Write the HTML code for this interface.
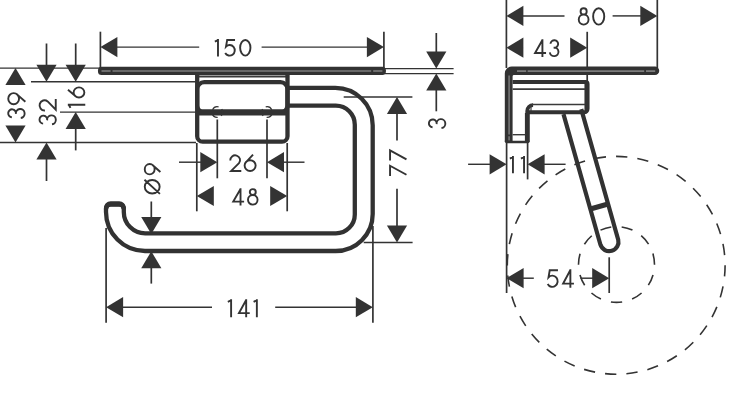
<!DOCTYPE html>
<html><head><meta charset="utf-8"><title>Dimension drawing</title>
<style>
html,body{margin:0;padding:0;background:#fff;font-family:"Liberation Sans",sans-serif;}
svg{display:block}
</style></head>
<body>
<svg width="750" height="412" viewBox="0 0 750 412">
<rect x="0" y="0" width="750" height="412" fill="#ffffff"/>
<line x1="0.00" y1="68.10" x2="100.00" y2="68.10" stroke="#333333" stroke-width="1.45" />
<line x1="31.00" y1="81.80" x2="196.00" y2="81.80" stroke="#333333" stroke-width="1.45" />
<line x1="60.00" y1="112.10" x2="196.00" y2="112.10" stroke="#333333" stroke-width="1.45" />
<line x1="0.00" y1="142.40" x2="196.00" y2="142.40" stroke="#333333" stroke-width="1.45" />
<polygon points="15.50,68.10 5.40,85.10 25.60,85.10" fill="#333333"/>
<polygon points="15.50,142.40 5.40,125.40 25.60,125.40" fill="#333333"/>
<g transform="translate(16.40,105.55) rotate(-90) scale(1.0508,1.0188)" fill="none" stroke="#333333" stroke-width="1.90" stroke-linejoin="miter" stroke-linecap="butt"><path vector-effect="non-scaling-stroke" transform="translate(-11.80,-8.00)" d="M0.61,3.53 A3.8,3.8 0 1 1 3.8,7.5 A4.3,4.3 0 1 1 -0.06,12.30"/><path vector-effect="non-scaling-stroke" transform="translate(1.20,-8.00)" d="M10.6,5.3 A5.3,5.3 0 1 1 0,5.3 A5.3,5.3 0 1 1 10.6,5.3 Z M9.7,8.3 L2.4,16.8"/></g>
<line x1="46.50" y1="43.50" x2="46.50" y2="66.00" stroke="#333333" stroke-width="1.70" />
<polygon points="46.50,81.80 36.40,64.80 56.60,64.80" fill="#333333"/>
<polygon points="46.50,142.40 36.40,159.40 56.60,159.40" fill="#333333"/>
<line x1="46.50" y1="158.00" x2="46.50" y2="181.00" stroke="#333333" stroke-width="1.70" />
<g transform="translate(47.65,112.10) rotate(-90) scale(1.0474,1.0125)" fill="none" stroke="#333333" stroke-width="1.90" stroke-linejoin="miter" stroke-linecap="butt"><path vector-effect="non-scaling-stroke" transform="translate(-11.60,-8.00)" d="M0.61,3.53 A3.8,3.8 0 1 1 3.8,7.5 A4.3,4.3 0 1 1 -0.06,12.30"/><path vector-effect="non-scaling-stroke" transform="translate(1.40,-8.00)" d="M0.12,5.3 A4.9,4.9 0 1 1 8.8,8.0 L1.0,16 L11.1,16"/></g>
<line x1="75.70" y1="43.50" x2="75.70" y2="66.00" stroke="#333333" stroke-width="1.70" />
<polygon points="75.70,81.80 65.60,64.80 85.80,64.80" fill="#333333"/>
<polygon points="75.70,112.10 65.60,129.10 85.80,129.10" fill="#333333"/>
<line x1="75.70" y1="128.00" x2="75.70" y2="150.40" stroke="#333333" stroke-width="1.70" />
<g transform="translate(76.55,97.45) rotate(-90) scale(0.9182,0.9750)" fill="none" stroke="#333333" stroke-width="1.90" stroke-linejoin="miter" stroke-linecap="butt"><path vector-effect="non-scaling-stroke" transform="translate(-11.00,-8.00)" d="M3,-0.95 L3,16.95 M-0.3,1.75 L3,0.1"/><path vector-effect="non-scaling-stroke" transform="translate(0.00,-8.00)" d="M8.4,-0.8 L1.0,7.4 M11,10.5 A5.5,5.5 0 1 1 0,10.5 A5.5,5.5 0 1 1 11,10.5 Z"/></g>
<line x1="100.40" y1="31.70" x2="100.40" y2="68.00" stroke="#333333" stroke-width="1.70" />
<line x1="383.90" y1="31.70" x2="383.90" y2="68.00" stroke="#333333" stroke-width="1.70" />
<polygon points="100.40,47.10 117.40,37.00 117.40,57.20" fill="#333333"/>
<polygon points="383.90,47.10 366.90,37.00 366.90,57.20" fill="#333333"/>
<line x1="116.00" y1="47.10" x2="199.20" y2="47.10" stroke="#333333" stroke-width="1.45" />
<line x1="261.60" y1="47.10" x2="368.00" y2="47.10" stroke="#333333" stroke-width="1.45" />
<g transform="translate(232.80,47.80) rotate(0) scale(0.9464,0.9813)" fill="none" stroke="#333333" stroke-width="1.90" stroke-linejoin="miter" stroke-linecap="butt"><path vector-effect="non-scaling-stroke" transform="translate(-18.65,-8.00)" d="M3,-0.95 L3,16.95 M-0.3,1.75 L3,0.1"/><path vector-effect="non-scaling-stroke" transform="translate(-8.25,-8.00)" d="M10.6,0 L2.3,0 L1.08,6.78 A5.4,5.4 0 1 1 0.22,13.3"/><path vector-effect="non-scaling-stroke" transform="translate(7.75,-8.00)" d="M5.45,0 A5.45,8 0 1 1 5.45,16 A5.45,8 0 1 1 5.45,0 Z"/></g>
<line x1="385.00" y1="68.60" x2="453.60" y2="68.60" stroke="#333333" stroke-width="1.45" />
<line x1="385.00" y1="73.60" x2="453.60" y2="73.60" stroke="#333333" stroke-width="1.45" />
<line x1="436.30" y1="33.00" x2="436.30" y2="53.00" stroke="#333333" stroke-width="1.70" />
<polygon points="436.30,68.60 426.20,51.60 446.40,51.60" fill="#333333"/>
<polygon points="436.30,73.40 426.20,90.40 446.40,90.40" fill="#333333"/>
<line x1="436.30" y1="89.00" x2="436.30" y2="111.30" stroke="#333333" stroke-width="1.70" />
<g transform="translate(437.10,123.55) rotate(-90) scale(1.0353,1.0187)" fill="none" stroke="#333333" stroke-width="1.90" stroke-linejoin="miter" stroke-linecap="butt"><path vector-effect="non-scaling-stroke" transform="translate(-4.25,-8.00)" d="M0.61,3.53 A3.8,3.8 0 1 1 3.8,7.5 A4.3,4.3 0 1 1 -0.06,12.30"/></g>
<line x1="343.70" y1="96.90" x2="412.40" y2="96.90" stroke="#333333" stroke-width="1.45" />
<line x1="363.70" y1="242.40" x2="412.60" y2="242.40" stroke="#333333" stroke-width="1.45" />
<polygon points="397.00,96.90 386.90,113.90 407.10,113.90" fill="#333333"/>
<line x1="397.00" y1="112.00" x2="397.00" y2="140.50" stroke="#333333" stroke-width="1.70" />
<line x1="397.00" y1="188.70" x2="397.00" y2="227.00" stroke="#333333" stroke-width="1.70" />
<polygon points="397.00,242.40 386.90,225.40 407.10,225.40" fill="#333333"/>
<g transform="translate(397.80,162.30) rotate(-90) scale(1.0000,0.9687)" fill="none" stroke="#333333" stroke-width="1.90" stroke-linejoin="miter" stroke-linecap="butt"><path vector-effect="non-scaling-stroke" transform="translate(-12.65,-8.00)" d="M-0.95,0 L9.2,0 L0.2,16.95"/><path vector-effect="non-scaling-stroke" transform="translate(2.65,-8.00)" d="M-0.95,0 L9.2,0 L0.2,16.95"/></g>
<line x1="217.30" y1="119.50" x2="217.30" y2="178.30" stroke="#333333" stroke-width="1.70" />
<line x1="267.00" y1="119.50" x2="267.00" y2="178.30" stroke="#333333" stroke-width="1.70" />
<line x1="179.00" y1="162.20" x2="201.50" y2="162.20" stroke="#333333" stroke-width="1.45" />
<polygon points="217.30,162.20 200.30,152.10 200.30,172.30" fill="#333333"/>
<polygon points="267.00,162.20 284.00,152.10 284.00,172.30" fill="#333333"/>
<line x1="283.00" y1="162.20" x2="304.50" y2="162.20" stroke="#333333" stroke-width="1.45" />
<g transform="translate(242.90,163.15) rotate(0) scale(1.0039,0.9750)" fill="none" stroke="#333333" stroke-width="1.90" stroke-linejoin="miter" stroke-linecap="butt"><path vector-effect="non-scaling-stroke" transform="translate(-12.70,-8.00)" d="M0.12,5.3 A4.9,4.9 0 1 1 8.8,8.0 L1.0,16 L11.1,16"/><path vector-effect="non-scaling-stroke" transform="translate(1.70,-8.00)" d="M8.4,-0.8 L1.0,7.4 M11,10.5 A5.5,5.5 0 1 1 0,10.5 A5.5,5.5 0 1 1 11,10.5 Z"/></g>
<line x1="196.80" y1="143.00" x2="196.80" y2="211.30" stroke="#333333" stroke-width="1.70" />
<line x1="287.20" y1="143.00" x2="287.20" y2="211.30" stroke="#333333" stroke-width="1.70" />
<polygon points="196.80,196.00 213.80,185.90 213.80,206.10" fill="#333333"/>
<polygon points="287.20,196.00 270.20,185.90 270.20,206.10" fill="#333333"/>
<g transform="translate(244.90,196.90) rotate(0) scale(0.9961,0.9688)" fill="none" stroke="#333333" stroke-width="1.90" stroke-linejoin="miter" stroke-linecap="butt"><path vector-effect="non-scaling-stroke" transform="translate(-12.70,-8.00)" d="M8.3,-0.95 L8.3,16.95 M8.3,-0.2 L1.0,12.9 L11.9,12.9"/><path vector-effect="non-scaling-stroke" transform="translate(3.10,-8.00)" d="M4.8,0 A3,3.05 0 1 1 4.8,6.1 A3,3.05 0 1 1 4.8,0 Z M4.8,6.1 A4.8,4.95 0 1 1 4.8,16 A4.8,4.95 0 1 1 4.8,6.1 Z"/></g>
<line x1="151.30" y1="201.50" x2="151.30" y2="218.00" stroke="#333333" stroke-width="1.70" />
<polygon points="151.30,233.90 141.20,216.90 161.40,216.90" fill="#333333"/>
<polygon points="151.30,251.30 141.20,268.30 161.40,268.30" fill="#333333"/>
<line x1="151.30" y1="267.00" x2="151.30" y2="283.60" stroke="#333333" stroke-width="1.70" />
<g transform="translate(152.20,178.80) rotate(-90) scale(0.9736,0.9312)" fill="none" stroke="#333333" stroke-width="1.90" stroke-linejoin="miter" stroke-linecap="butt"><path vector-effect="non-scaling-stroke" transform="translate(-15.15,-8.00)" d="M6.95,0 A6.95,8 0 1 1 6.95,16 A6.95,8 0 1 1 6.95,0 Z M14.2,-0.3 L-0.3,16.3"/><path vector-effect="non-scaling-stroke" transform="translate(4.55,-8.00)" d="M10.6,5.3 A5.3,5.3 0 1 1 0,5.3 A5.3,5.3 0 1 1 10.6,5.3 Z M9.7,8.3 L2.4,16.8"/></g>
<line x1="106.10" y1="228.00" x2="106.10" y2="322.80" stroke="#333333" stroke-width="1.70" />
<line x1="372.90" y1="226.00" x2="372.90" y2="322.80" stroke="#333333" stroke-width="1.70" />
<polygon points="106.10,307.20 123.10,297.10 123.10,317.30" fill="#333333"/>
<polygon points="372.80,307.20 355.80,297.10 355.80,317.30" fill="#333333"/>
<line x1="122.00" y1="307.20" x2="212.00" y2="307.20" stroke="#333333" stroke-width="1.45" />
<line x1="275.20" y1="307.20" x2="357.00" y2="307.20" stroke="#333333" stroke-width="1.45" />
<g transform="translate(242.50,308.20) rotate(0) scale(0.9880,1.0063)" fill="none" stroke="#333333" stroke-width="1.90" stroke-linejoin="miter" stroke-linecap="butt"><path vector-effect="non-scaling-stroke" transform="translate(-14.53,-8.00)" d="M3,-0.95 L3,16.95 M-0.3,1.75 L3,0.1"/><path vector-effect="non-scaling-stroke" transform="translate(-4.58,-8.00)" d="M8.3,-0.95 L8.3,16.95 M8.3,-0.2 L1.0,12.9 L11.9,12.9"/><path vector-effect="non-scaling-stroke" transform="translate(11.53,-8.00)" d="M3,-0.95 L3,16.95 M-0.3,1.75 L3,0.1"/></g>
<rect x="98.0" y="66.7" width="287.9" height="8.4" rx="3.5" ry="3.5" fill="#323232"/>
<line x1="101.50" y1="71.00" x2="110.60" y2="71.00" stroke="#7c7c7c" stroke-width="1.60" />
<line x1="112.50" y1="71.00" x2="371.20" y2="71.00" stroke="#7c7c7c" stroke-width="1.60" />
<line x1="373.20" y1="71.00" x2="382.40" y2="71.00" stroke="#7c7c7c" stroke-width="1.60" />
<line x1="197.00" y1="76.50" x2="288.00" y2="76.50" stroke="#3a3a3a" stroke-width="1.80" />
<path d="M197.2,74 V136.2 A5.5,5.5 0 0 0 202.7,141.7 H282 A5.5,5.5 0 0 0 287.5,136.2 V74" fill="none" stroke="#323232" stroke-width="4.30" />
<path d="M204.2,82.1 H280.5 A7,7 0 0 1 287.5,89.1 V105.6 A7,7 0 0 1 280.5,112.6 H204.2 A7,7 0 0 1 197.2,105.6 V89.1 A7,7 0 0 1 204.2,82.1 Z" fill="none" stroke="#323232" stroke-width="4.30" />
<line x1="199.00" y1="112.30" x2="286.00" y2="112.30" stroke="#323232" stroke-width="6.30" />
<path d="M221.69,109.04 A5.30,5.30 0 0 1 221.11,115.68 M217.67,117.29 A5.30,5.30 0 0 1 212.21,113.46 M212.54,109.68 A5.30,5.30 0 0 1 218.58,106.86" fill="none" stroke="#333333" stroke-width="1.30" />
<path d="M263.19,115.68 A5.30,5.30 0 0 1 262.61,109.04 M265.72,106.86 A5.30,5.30 0 0 1 271.76,109.68 M272.09,113.46 A5.30,5.30 0 0 1 266.63,117.29" fill="none" stroke="#333333" stroke-width="1.30" />
<path d="M289,87.9 H335.3 A37.4,37.4 0 0 1 372.7,125.3 V214.0 A37,37 0 0 1 335.7,251.0 H145 A39,39 0 0 1 106,212.0 V208.7 A4.6,4.6 0 0 1 110.6,204.1 H119.2 A4.6,4.6 0 0 1 123.8,208.7 V211.9 A21.4,21.4 0 0 0 145.2,233.3 H335.9 A18.9,18.9 0 0 0 354.8,214.4 V124.7 A19,19 0 0 0 335.8,105.7 H289" fill="none" stroke="#323232" stroke-width="4.30" />
<path d="M106,208.10 A4.6,4.6 0 0 1 110.6,203.50 H119.2 A4.6,4.6 0 0 1 123.8,208.10" fill="none" stroke="#323232" stroke-width="4.30" />
<path d="M106,209.20 A4.6,4.6 0 0 1 110.6,204.60 H119.2 A4.6,4.6 0 0 1 123.8,209.20" fill="none" stroke="#323232" stroke-width="4.30" />
<line x1="506.40" y1="0.00" x2="506.40" y2="68.00" stroke="#333333" stroke-width="1.70" />
<line x1="657.30" y1="0.00" x2="657.30" y2="68.00" stroke="#333333" stroke-width="1.70" />
<polygon points="506.40,15.90 523.40,5.80 523.40,26.00" fill="#333333"/>
<line x1="522.00" y1="15.90" x2="564.50" y2="15.90" stroke="#333333" stroke-width="1.45" />
<line x1="612.60" y1="15.90" x2="642.00" y2="15.90" stroke="#333333" stroke-width="1.45" />
<polygon points="657.30,15.90 640.30,5.80 640.30,26.00" fill="#333333"/>
<g transform="translate(591.50,16.45) rotate(0) scale(1.0200,1.0250)" fill="none" stroke="#333333" stroke-width="1.90" stroke-linejoin="miter" stroke-linecap="butt"><path vector-effect="non-scaling-stroke" transform="translate(-12.50,-8.00)" d="M4.8,0 A3,3.05 0 1 1 4.8,6.1 A3,3.05 0 1 1 4.8,0 Z M4.8,6.1 A4.8,4.95 0 1 1 4.8,16 A4.8,4.95 0 1 1 4.8,6.1 Z"/><path vector-effect="non-scaling-stroke" transform="translate(1.60,-8.00)" d="M5.45,0 A5.45,8 0 1 1 5.45,16 A5.45,8 0 1 1 5.45,0 Z"/></g>
<line x1="587.20" y1="31.80" x2="587.20" y2="83.00" stroke="#333333" stroke-width="1.70" />
<polygon points="506.40,47.70 523.40,37.60 523.40,57.80" fill="#333333"/>
<polygon points="587.20,47.70 570.20,37.60 570.20,57.80" fill="#333333"/>
<g transform="translate(546.25,48.15) rotate(0) scale(1.0083,0.9875)" fill="none" stroke="#333333" stroke-width="1.90" stroke-linejoin="miter" stroke-linecap="butt"><path vector-effect="non-scaling-stroke" transform="translate(-12.10,-8.00)" d="M8.3,-0.95 L8.3,16.95 M8.3,-0.2 L1.0,12.9 L11.9,12.9"/><path vector-effect="non-scaling-stroke" transform="translate(3.60,-8.00)" d="M0.61,3.53 A3.8,3.8 0 1 1 3.8,7.5 A4.3,4.3 0 1 1 -0.06,12.30"/></g>
<line x1="506.60" y1="142.00" x2="506.60" y2="293.00" stroke="#333333" stroke-width="1.70" />
<line x1="527.60" y1="142.00" x2="527.60" y2="179.40" stroke="#333333" stroke-width="1.70" />
<line x1="468.10" y1="164.30" x2="491.00" y2="164.30" stroke="#333333" stroke-width="1.45" />
<polygon points="506.60,164.30 489.60,154.20 489.60,174.40" fill="#333333"/>
<polygon points="527.60,164.30 544.60,154.20 544.60,174.40" fill="#333333"/>
<line x1="543.00" y1="164.30" x2="565.60" y2="164.30" stroke="#333333" stroke-width="1.45" />
<g transform="translate(517.10,164.55) rotate(0) scale(0.9329,0.9625)" fill="none" stroke="#333333" stroke-width="1.90" stroke-linejoin="miter" stroke-linecap="butt"><path vector-effect="non-scaling-stroke" transform="translate(-7.45,-8.00)" d="M3,-0.95 L3,16.95 M-0.3,1.75 L3,0.1"/><path vector-effect="non-scaling-stroke" transform="translate(4.45,-8.00)" d="M3,-0.95 L3,16.95 M-0.3,1.75 L3,0.1"/></g>
<line x1="609.20" y1="257.30" x2="609.20" y2="293.00" stroke="#333333" stroke-width="1.70" />
<polygon points="506.60,278.20 523.60,268.10 523.60,288.30" fill="#333333"/>
<line x1="522.00" y1="278.20" x2="533.80" y2="278.20" stroke="#333333" stroke-width="1.45" />
<line x1="580.40" y1="278.20" x2="594.00" y2="278.20" stroke="#333333" stroke-width="1.45" />
<polygon points="609.20,278.20 592.20,268.10 592.20,288.30" fill="#333333"/>
<g transform="translate(560.25,278.55) rotate(0) scale(0.9922,1.0375)" fill="none" stroke="#333333" stroke-width="1.90" stroke-linejoin="miter" stroke-linecap="butt"><path vector-effect="non-scaling-stroke" transform="translate(-12.90,-8.00)" d="M10.6,0 L2.3,0 L1.08,6.78 A5.4,5.4 0 1 1 0.22,13.3"/><path vector-effect="non-scaling-stroke" transform="translate(1.90,-8.00)" d="M8.3,-0.95 L8.3,16.95 M8.3,-0.2 L1.0,12.9 L11.9,12.9"/></g>
<path d="M616.06,156.40 A108.90,108.90 0 0 1 627.35,156.97 M637.31,158.46 A108.90,108.90 0 0 1 648.27,161.23 M657.74,164.64 A108.90,108.90 0 0 1 667.95,169.48 M676.58,174.67 A108.90,108.90 0 0 1 685.65,181.42 M693.10,188.20 A108.90,108.90 0 0 1 700.68,196.58 M706.67,204.68 A108.90,108.90 0 0 1 712.46,214.38 M716.76,223.49 A108.90,108.90 0 0 1 720.55,234.14 M722.98,243.91 A108.90,108.90 0 0 1 724.62,255.10 M725.10,265.16 A108.90,108.90 0 0 1 724.53,276.45 M723.04,286.41 A108.90,108.90 0 0 1 720.27,297.37 M716.86,306.84 A108.90,108.90 0 0 1 712.02,317.05 M706.83,325.68 A108.90,108.90 0 0 1 700.08,334.75 M693.30,342.20 A108.90,108.90 0 0 1 684.92,349.78 M676.82,355.77 A108.90,108.90 0 0 1 667.12,361.56 M658.01,365.86 A108.90,108.90 0 0 1 647.36,369.65 M637.59,372.08 A108.90,108.90 0 0 1 626.40,373.72 M616.34,374.20 A108.90,108.90 0 0 1 605.05,373.63 M595.09,372.14 A108.90,108.90 0 0 1 584.13,369.37 M574.66,365.96 A108.90,108.90 0 0 1 564.45,361.12 M555.82,355.93 A108.90,108.90 0 0 1 546.75,349.18 M539.30,342.40 A108.90,108.90 0 0 1 531.72,334.02 M525.73,325.92 A108.90,108.90 0 0 1 519.94,316.22 M515.64,307.11 A108.90,108.90 0 0 1 511.85,296.46 M509.42,286.69 A108.90,108.90 0 0 1 507.78,275.50 M507.30,265.44 A108.90,108.90 0 0 1 507.87,254.15 M509.36,244.19 A108.90,108.90 0 0 1 512.13,233.23 M515.54,223.76 A108.90,108.90 0 0 1 520.38,213.55 M525.57,204.92 A108.90,108.90 0 0 1 532.32,195.85 M539.10,188.40 A108.90,108.90 0 0 1 547.48,180.82 M555.58,174.83 A108.90,108.90 0 0 1 565.28,169.04 M574.39,164.74 A108.90,108.90 0 0 1 585.04,160.95 M594.81,158.52 A108.90,108.90 0 0 1 606.00,156.88" fill="none" stroke="#333333" stroke-width="1.60" />
<path d="M653.03,274.95 A38.00,37.90 0 0 1 648.37,285.14 M641.57,292.98 A38.00,37.90 0 0 1 632.12,299.05 M622.15,301.98 A38.00,37.90 0 0 1 610.91,301.99 M600.93,299.07 A38.00,37.90 0 0 1 591.48,293.02 M584.66,285.19 A38.00,37.90 0 0 1 579.99,275.00 M578.50,264.74 A38.00,37.90 0 0 1 580.09,253.65 M584.40,244.21 A38.00,37.90 0 0 1 591.75,235.74 M600.50,230.13 A38.00,37.90 0 0 1 611.27,226.96 M621.67,226.95 A38.00,37.90 0 0 1 632.45,230.10 M641.20,235.70 A38.00,37.90 0 0 1 648.57,244.16 M652.89,253.59 A38.00,37.90 0 0 1 654.50,264.68" fill="none" stroke="#333333" stroke-width="1.60" />
<path d="M504.8,141.5 V73.5 A7,7 0 0 1 511.8,66.5 H655 A4.25,4.25 0 0 1 655,75.0 H514 A1.4,1.4 0 0 0 512.6,76.4 V141.5 Z" fill="#323232" stroke="none" stroke-width="0.00" />
<line x1="517.00" y1="71.10" x2="526.20" y2="71.10" stroke="#7c7c7c" stroke-width="1.80" />
<line x1="527.60" y1="71.10" x2="644.20" y2="71.10" stroke="#7c7c7c" stroke-width="1.80" />
<line x1="646.00" y1="71.10" x2="655.20" y2="71.10" stroke="#7c7c7c" stroke-width="1.80" />
<line x1="509.10" y1="75.50" x2="509.10" y2="134.60" stroke="#6e6e6e" stroke-width="1.80" />
<line x1="509.10" y1="136.20" x2="509.10" y2="140.40" stroke="#6e6e6e" stroke-width="1.80" />
<path d="M512.6,82 H585.6 A2,2 0 0 1 587.6,84 V108.8 A3.5,3.5 0 0 1 584.1,112.3 H527.3" fill="none" stroke="#323232" stroke-width="3.90" />
<line x1="586.40" y1="82.50" x2="586.40" y2="110.20" stroke="#323232" stroke-width="3.90" />
<path d="M527.3,141.5 V110.9 A5.8,5.8 0 0 1 533.1,105.1" fill="none" stroke="#323232" stroke-width="3.90" />
<line x1="527.30" y1="113.00" x2="527.30" y2="141.50" stroke="#323232" stroke-width="4.80" />
<path d="M504.8,140.8 H529.7 V141.2 A2,2 0 0 1 527.7,143.2 H506.8 A2,2 0 0 1 504.8,141.2 Z" fill="#323232" stroke="none" stroke-width="0.00" />
<line x1="512.60" y1="89.20" x2="585.00" y2="89.20" stroke="#3a3a3a" stroke-width="1.80" />
<line x1="532.00" y1="104.50" x2="585.00" y2="104.50" stroke="#3a3a3a" stroke-width="1.70" />
<line x1="531.00" y1="105.00" x2="531.00" y2="111.00" stroke="#3a3a3a" stroke-width="1.20" />
<line x1="512.60" y1="134.70" x2="525.50" y2="134.70" stroke="#3a3a3a" stroke-width="1.40" />
<path d="M563.48,114.12 L600.44,244.72 A9.24,9.24 0 0 0 618.21,239.68 L581.25,109.08" fill="none" stroke="#323232" stroke-width="4.20" />
<line x1="590.33" y1="209.02" x2="608.11" y2="203.98" stroke="#323232" stroke-width="5.00" />
</svg>
</body></html>
